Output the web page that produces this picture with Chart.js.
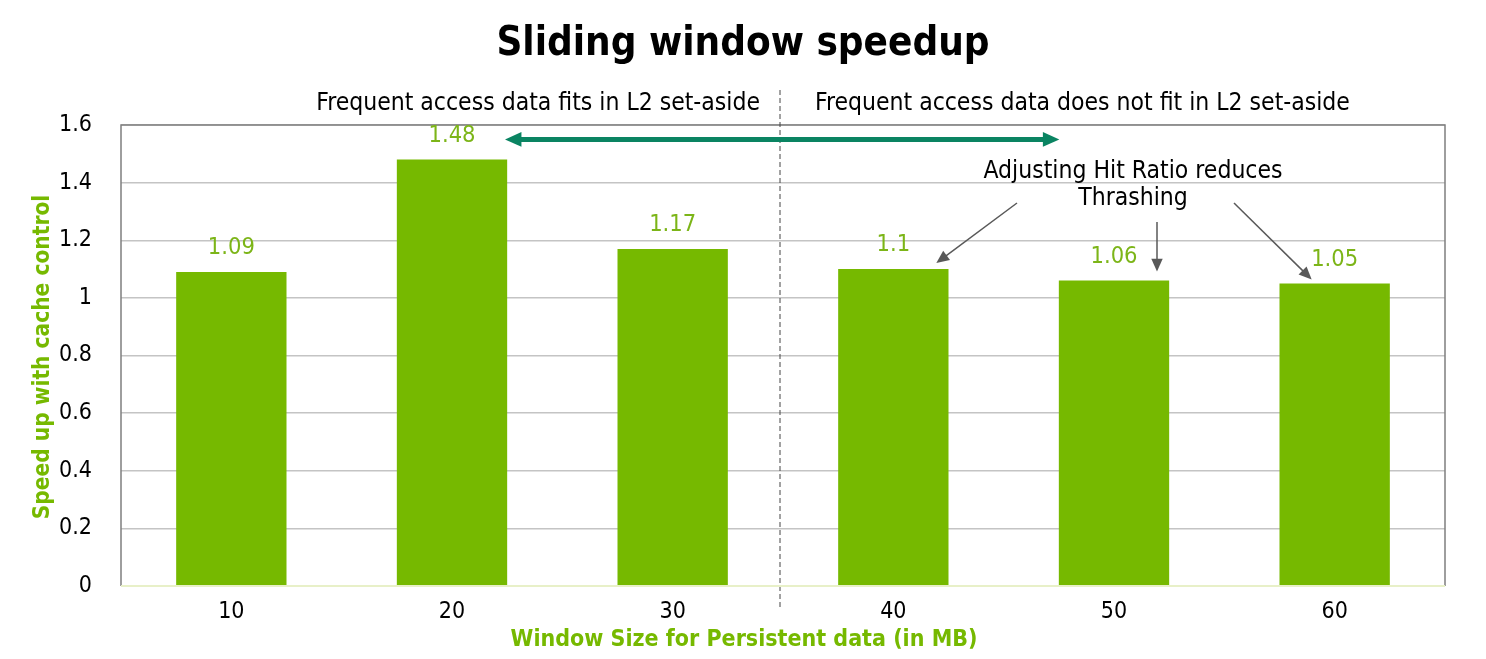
<!DOCTYPE html>
<html>
<head>
<meta charset="utf-8">
<script src="https://cdn.jsdelivr.net/npm/chart.js@4.4.0/dist/chart.umd.min.js"></script>
<style>
  html, body { margin: 0; padding: 0; background: #fff; }
  #wrap { width: 1486px; height: 659px; }
</style>
</head>
<body>
<div id="wrap"><canvas id="speedChart" width="1486" height="659"></canvas></div>
<script>
// chart data
const windowSizes = ['10', '20', '30', '40', '50', '60'];
const speedups = [1.09, 1.48, 1.17, 1.1, 1.06, 1.05];
const speedLabels = ['1.09', '1.48', '1.17', '1.1', '1.06', '1.05'];
const yTicks = [0, 0.2, 0.4, 0.6, 0.8, 1, 1.2, 1.4, 1.6];

const FONT = "'DejaVu Sans Condensed', 'DejaVu Sans', sans-serif";
const GREEN = '#76b900';

// draws arrow line with filled head at (x2, y2)
function arrow(ctx, x1, y1, x2, y2, color, width, head) {
  const ang = Math.atan2(y2 - y1, x2 - x1);
  ctx.save();
  ctx.strokeStyle = color;
  ctx.fillStyle = color;
  ctx.lineWidth = width;
  ctx.beginPath();
  ctx.moveTo(x1, y1);
  ctx.lineTo(x2 - Math.cos(ang) * head * 0.8, y2 - Math.sin(ang) * head * 0.8);
  ctx.stroke();
  ctx.beginPath();
  ctx.moveTo(x2, y2);
  ctx.lineTo(x2 - head * Math.cos(ang - 0.42), y2 - head * Math.sin(ang - 0.42));
  ctx.lineTo(x2 - head * Math.cos(ang + 0.42), y2 - head * Math.sin(ang + 0.42));
  ctx.closePath();
  ctx.fill();
  ctx.restore();
}

const overlay = {
  id: 'overlay',
  afterDatasetsDraw(chart) {
    const { ctx, scales: { x, y }, chartArea } = chart;
    ctx.save();

    // title and axis titles
    ctx.fillStyle = '#000';
    ctx.textAlign = 'center';
    ctx.textBaseline = 'middle';
    ctx.font = 'bold 40px ' + FONT;
    ctx.fillText('Sliding window speedup', 743, 45);

    ctx.fillStyle = GREEN;
    ctx.font = 'bold 23px ' + FONT;
    ctx.fillText('Window Size for Persistent data (in MB)', 744, 640);
    ctx.save();
    ctx.translate(43, 357);
    ctx.rotate(-Math.PI / 2);
    ctx.font = 'bold 22.5px ' + FONT;
    ctx.fillText('Speed up with cache control', 0, 0);
    ctx.restore();

    // value labels above bars
    ctx.font = '23.5px ' + FONT;
    ctx.fillStyle = '#7cb518';
    speedups.forEach((v, i) => {
      ctx.fillText(speedLabels[i], x.getPixelForValue(i), y.getPixelForValue(v) - 24);
    });

    // dashed divider between 30 and 40
    const divX = (x.getPixelForValue(2) + x.getPixelForValue(3)) / 2 - 3;
    ctx.strokeStyle = '#444';
    ctx.lineWidth = 1;
    ctx.setLineDash([5, 3]);
    ctx.beginPath();
    ctx.moveTo(divX, 90);
    ctx.lineTo(divX, 610);
    ctx.stroke();
    ctx.setLineDash([]);

    // region captions
    ctx.font = '24.5px ' + FONT;
    ctx.fillStyle = '#000';
    ctx.textAlign = 'right';
    ctx.fillText('Frequent access data fits in L2 set-aside', divX - 20, 104);
    ctx.textAlign = 'left';
    ctx.fillText('Frequent access data does not fit in L2 set-aside', divX + 35, 104);

    // double-headed teal arrow
    const yA = y.getPixelForValue(1.55);
    const xL = x.getPixelForValue(1) + 53, xR = x.getPixelForValue(3) + 166;
    arrow(ctx, divX, yA, xL, yA, '#0a8462', 5, 18);
    arrow(ctx, divX, yA, xR, yA, '#0a8462', 5, 18);

    // hit ratio note
    ctx.textAlign = 'center';
    ctx.fillText('Adjusting Hit Ratio reduces', 1133, 172);
    ctx.fillText('Thrashing', 1133, 199);

    arrow(ctx, 1017, 203, x.getPixelForValue(3) + 43, y.getPixelForValue(1.1) - 6, '#595959', 1.5, 14);
    arrow(ctx, 1157, 222, x.getPixelForValue(4) + 43, y.getPixelForValue(1.06) - 9, '#595959', 1.5, 14);
    arrow(ctx, 1234, 203, x.getPixelForValue(5) - 23, y.getPixelForValue(1.05) - 4, '#595959', 1.5, 14);

    // light bottom axis line
    ctx.strokeStyle = '#e8f0c8';
    ctx.lineWidth = 2;
    ctx.beginPath();
    ctx.moveTo(chartArea.left, chartArea.bottom);
    ctx.lineTo(chartArea.right, chartArea.bottom);
    ctx.stroke();
    ctx.restore();
  }
};

new Chart(document.getElementById('speedChart').getContext('2d'), {
  type: 'bar',
  data: {
    labels: windowSizes,
    datasets: [{
      data: speedups,
      backgroundColor: GREEN,
      borderWidth: 0,
      barPercentage: 0.5,
      categoryPercentage: 1
    }]
  },
  options: {
    responsive: false,
    maintainAspectRatio: false,
    animation: false,
    layout: { padding: { top: 125, right: 41, bottom: 0, left: 0 } },
    scales: {
      x: {
        grid: { display: false },
        border: { display: false },
        ticks: { color: '#000', font: { family: FONT, size: 23 }, padding: 4 },
        afterFit(axis) { axis.height = 73; }
      },
      y: {
        min: 0,
        max: 1.6,
        afterBuildTicks(axis) { axis.ticks = yTicks.map(v => ({ value: v })); },
        afterFit(axis) { axis.width = 121; },
        grid: { color: '#c4c4c4', lineWidth: 1.5, drawTicks: false },
        border: { display: false },
        ticks: {
          color: '#000',
          font: { family: FONT, size: 23 },
          padding: 29,
          callback: v => String(Math.round(v * 10) / 10)
        }
      }
    },
    plugins: {
      legend: { display: false },
      tooltip: { enabled: false },
      title: { display: false }
    }
  },
  plugins: [overlay, {
    id: 'frame',
    beforeDatasetsDraw(chart) {
      const { ctx, chartArea: a } = chart;
      ctx.save();
      ctx.strokeStyle = '#7f7f7f';
      ctx.lineWidth = 1.5;
      ctx.beginPath();
      ctx.moveTo(a.left, a.bottom);
      ctx.lineTo(a.left, a.top);
      ctx.lineTo(a.right, a.top);
      ctx.lineTo(a.right, a.bottom);
      ctx.stroke();
      ctx.restore();
    }
  }]
});
</script>
</body>
</html>
